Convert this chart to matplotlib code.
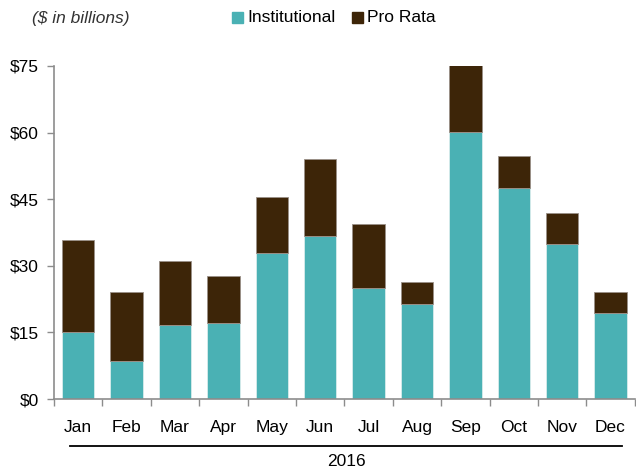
import numpy as np
import matplotlib
matplotlib.use("Agg")
import matplotlib.pyplot as plt
from matplotlib.patches import Rectangle

plt.rcParams['font.family'] = ['Liberation Sans', 'DejaVu Sans']

months = ['Jan', 'Feb', 'Mar', 'Apr', 'May', 'Jun', 'Jul', 'Aug', 'Sep', 'Oct', 'Nov', 'Dec']
institutional = [15.0, 8.5, 16.7, 17.2, 32.8, 36.7, 25.0, 21.5, 60.1, 47.5, 34.9, 19.4]
pro_rata = [20.8, 15.6, 14.3, 10.4, 12.8, 17.3, 14.3, 4.8, 15.2, 7.3, 7.0, 4.7]
year_label = '2016'

teal = '#4AB1B4'
brown = '#3D2508'
grey = '#8C8C8C'
fs = 12.5

fig = plt.figure(figsize=(6.36, 4.74), dpi=100)
ax = fig.add_axes([0.085, 0.158, 0.913, 0.703])

x = np.arange(len(months))
ax.bar(x, institutional, width=0.67, color=teal, edgecolor='#D8ECEC', linewidth=0.6)
ax.bar(x, pro_rata, width=0.67, bottom=institutional, color=brown, edgecolor='#9A9088', linewidth=0.6)

ax.set_xlim(-0.5, len(months) - 0.5)
ax.set_ylim(0, 75)
ax.set_yticks([0, 15, 30, 45, 60, 75])
ax.set_yticklabels(['$%d' % v for v in [0, 15, 30, 45, 60, 75]], fontsize=fs)

# month labels without ticks, ticks at category boundaries
ax.set_xticks(x)
ax.set_xticklabels(months, fontsize=fs)
ax.tick_params(axis='x', length=0, pad=15)
ax.set_xticks(np.arange(-0.5, len(months)), minor=True)
ax.tick_params(axis='x', which='minor', length=5, color=grey, width=1)
ax.tick_params(axis='y', length=5, color=grey, width=1, pad=6)

for s in ['top', 'right']:
    ax.spines[s].set_visible(False)
for s in ['left', 'bottom']:
    ax.spines[s].set_color(grey)
    ax.spines[s].set_linewidth(1.2)

# group line and year label
fig.add_artist(plt.Line2D([70 / 636, 622 / 636], [1 - 446 / 474, 1 - 446 / 474],
                          color='black', linewidth=1.3))
fig.text(346 / 636, 1 - 462 / 474, year_label, ha='center', va='center', fontsize=fs)

fig.text(32 / 636, 1 - 18 / 474, '($ in billions)', style='italic', fontsize=fs,
         ha='left', va='center', color='#333333')

# legend
fig.patches.append(Rectangle((232 / 636, 1 - 23 / 474), 11 / 636, 11 / 474,
                             transform=fig.transFigure, color=teal))
fig.text(247 / 636, 1 - 18 / 474, 'Institutional', fontsize=fs, ha='left', va='center')
fig.patches.append(Rectangle((352 / 636, 1 - 23 / 474), 11 / 636, 11 / 474,
                             transform=fig.transFigure, color=brown))
fig.text(367 / 636, 1 - 18 / 474, 'Pro Rata', fontsize=fs, ha='left', va='center')

fig.savefig('out.png', dpi=100)
